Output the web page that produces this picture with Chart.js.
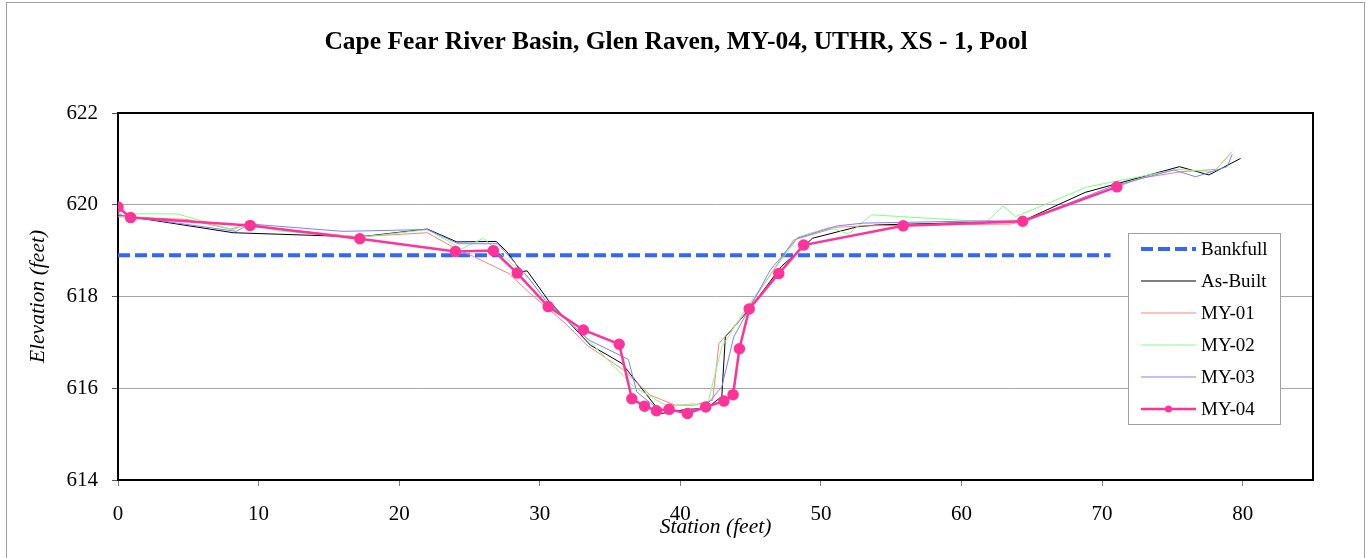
<!DOCTYPE html>
<html>
<head>
<meta charset="utf-8">
<title>Cape Fear River Basin, Glen Raven, MY-04, UTHR, XS - 1, Pool</title>
<script src="https://cdn.jsdelivr.net/npm/chart.js@4.4.0/dist/chart.umd.min.js"></script>
<style>
    html, body { margin: 0; padding: 0; background: #fff; }
    #wrap { width: 1367px; height: 558px; }
</style>
</head>
<body>
<div id="wrap"><canvas id="xsChart" width="1367" height="558"></canvas></div>
<script>
// station (ft) / elevation (ft) pairs
const bankfullX = [0, 70.6];
const bankfullElev = 618.9;

const asBuiltX = [0, 8.2, 17.2, 22.0, 24.1, 26.9, 27.65, 28.7, 29.1, 30.6, 33.6, 35.85, 38.65, 40.45, 41.85, 42.95, 43.2, 44.85, 47.2, 48.5, 49.4, 52.6, 54.0, 64.3, 68.8, 75.5, 77.6, 79.85];
const asBuiltY = [619.78, 619.39, 619.3, 619.47, 619.19, 619.2, 618.98, 618.54, 618.56, 617.92, 616.94, 616.54, 615.45, 615.54, 615.56, 615.82, 617.12, 617.7, 618.66, 619.01, 619.27, 619.52, 619.56, 619.64, 620.27, 620.83, 620.65, 621.01];

const my01X = [0, 4.9, 8.0, 9.0, 17.0, 22.0, 24.1, 25.3, 27.8, 29.3, 31.8, 33.35, 35.95, 37.85, 39.65, 40.95, 42.3, 42.75, 44.25, 48.05, 51.15, 53.05, 63.5, 64.35, 72.75, 75.6, 78.1, 79.15];
const my01Y = [619.74, 619.68, 619.47, 619.55, 619.3, 619.39, 619.03, 618.87, 618.5, 618.07, 617.42, 616.94, 616.4, 615.85, 615.63, 615.63, 615.74, 616.98, 617.49, 619.23, 619.51, 619.54, 619.58, 619.64, 620.58, 620.72, 620.77, 621.12];

const my02X = [0, 4.2, 8.2, 9.4, 11.3, 17.5, 22.0, 24.45, 26.0, 29.3, 30.5, 33.3, 36.7, 39.05, 40.95, 41.9, 42.95, 44.75, 48.4, 50.65, 51.95, 53.6, 61.8, 62.95, 63.85, 68.95, 75.35, 77.95, 79.25];
const my02Y = [619.8, 619.8, 619.45, 619.63, 619.43, 619.3, 619.46, 619.04, 619.27, 618.36, 617.89, 617.1, 616.03, 615.61, 615.66, 615.61, 616.9, 617.78, 619.3, 619.51, 619.36, 619.78, 619.63, 619.97, 619.74, 620.39, 620.77, 620.72, 621.16];

const my03X = [0, 8.4, 9.4, 16.0, 22.0, 24.2, 27.0, 29.2, 30.4, 33.5, 36.3, 36.9, 38.35, 40.0, 41.65, 42.95, 43.8, 46.4, 48.3, 51.15, 53.05, 61.8, 64.35, 70.6, 75.1, 76.65, 78.9, 79.25];
const my03Y = [619.78, 619.42, 619.58, 619.42, 619.46, 619.15, 619.15, 618.41, 617.92, 617.05, 616.63, 615.92, 615.56, 615.49, 615.56, 616.03, 617.12, 618.58, 619.27, 619.54, 619.6, 619.65, 619.64, 620.39, 620.76, 620.61, 620.83, 621.1];

const my04X = [0, 0.9, 9.4, 17.2, 24.0, 26.7, 28.4, 30.6, 33.1, 35.65, 36.55, 37.45, 38.3, 39.2, 40.5, 41.8, 43.1, 43.75, 44.2, 44.9, 47.0, 48.77, 55.85, 64.35, 71.05];
const my04Y = [619.95, 619.72, 619.55, 619.26, 618.98, 619.0, 618.51, 617.78, 617.27, 616.96, 615.77, 615.61, 615.51, 615.54, 615.45, 615.59, 615.72, 615.86, 616.86, 617.73, 618.5, 619.12, 619.54, 619.64, 620.39];

const xTicks = [0, 10, 20, 30, 40, 50, 60, 70, 80];
const yTicks = [614, 616, 618, 620, 622];

const chartTitle = 'Cape Fear River Basin, Glen Raven, MY-04, UTHR, XS - 1, Pool';
const serif = "'Times New Roman', 'Liberation Serif', serif";

function pairs(xs, ys) {
    return xs.map((x, i) => ({ x: x, y: Array.isArray(ys) ? ys[i] : ys }));
}

// plot frame, outer chart border, title and the boxed legend (Excel style)
const framePlugin = {
    id: 'frame',
    beforeDraw(chart) {
        const ctx = chart.ctx;
        ctx.save();
        ctx.fillStyle = '#fff';
        ctx.fillRect(0, 0, chart.width, chart.height);
        ctx.strokeStyle = '#a0a0a0';
        ctx.lineWidth = 1;
        ctx.strokeRect(6.5, 2.5, chart.width - 9, chart.height + 10);
        ctx.font = 'bold 25.5px ' + serif;
        ctx.fillStyle = '#000';
        ctx.textAlign = 'center';
        ctx.textBaseline = 'middle';
        ctx.fillText(chartTitle, 676, 42);
        ctx.restore();
    },
    beforeDatasetsDraw(chart) {
        const { ctx, chartArea: a } = chart;
        ctx.save();
        ctx.strokeStyle = '#000';
        ctx.lineWidth = 2;
        ctx.strokeRect(a.left, a.top, a.right - a.left, a.bottom - a.top);
        ctx.restore();
    },
    afterDraw(chart) {
        const { ctx, chartArea: a } = chart;
        const left = a.right - 185, top = a.top + 120;
        const w = 152, h = 191;
        ctx.save();
        ctx.fillStyle = '#fff';
        ctx.fillRect(left, top, w, h);
        ctx.strokeStyle = '#a0a0a0';
        ctx.lineWidth = 1;
        ctx.strokeRect(left + 0.5, top + 0.5, w, h);
        ctx.font = '19px ' + serif;
        ctx.textBaseline = 'middle';
        ctx.fillStyle = '#000';
        chart.data.datasets.forEach((ds, i) => {
            const y = top + 16 + i * 32;
            ctx.beginPath();
            ctx.strokeStyle = ds.borderColor;
            ctx.lineWidth = ds.borderWidth;
            ctx.setLineDash(ds.borderDash || []);
            ctx.moveTo(left + 13, y);
            ctx.lineTo(left + 68, y);
            ctx.stroke();
            ctx.setLineDash([]);
            if (ds.pointRadius > 0) {
                ctx.beginPath();
                ctx.fillStyle = ds.pointBackgroundColor;
                ctx.arc(left + 40.5, y, 3.5, 0, Math.PI * 2);
                ctx.fill();
                ctx.fillStyle = '#000';
            }
            ctx.fillText(ds.label, left + 73, y + 1);
        });
        ctx.restore();
    }
};

const thin = (label, color, xs, ys, order) => ({
    label: label,
    data: pairs(xs, ys),
    borderColor: color,
    borderWidth: 1,
    pointRadius: 0,
    showLine: true,
    tension: 0,
    order: order
});

new Chart(document.getElementById('xsChart').getContext('2d'), {
    type: 'scatter',
    data: {
        datasets: [
            {
                label: 'Bankfull',
                data: pairs(bankfullX, bankfullElev),
                borderColor: '#3366ff',
                borderWidth: 4,
                borderDash: [12, 5],
                pointRadius: 0,
                showLine: true,
                order: 5
            },
            thin('As-Built', '#000000', asBuiltX, asBuiltY, 4),
            thin('MY-01', '#ff8080', my01X, my01Y, 3),
            thin('MY-02', '#80ff80', my02X, my02Y, 2),
            thin('MY-03', '#8080ff', my03X, my03Y, 1),
            {
                label: 'MY-04',
                data: pairs(my04X, my04Y),
                borderColor: '#ff3399',
                backgroundColor: '#ff3399',
                pointBackgroundColor: '#ff3399',
                pointBorderColor: '#ff3399',
                borderWidth: 2.5,
                pointRadius: 4.5,
                showLine: true,
                tension: 0,
                order: 0
            }
        ]
    },
    options: {
        responsive: false,
        animation: false,
        layout: { padding: { left: 0, right: 54, top: 113, bottom: 0 } },
        plugins: {
            legend: { display: false },
            tooltip: { enabled: false },
            title: { display: false }
        },
        scales: {
            x: {
                type: 'linear',
                min: 0,
                max: 85,
                afterBuildTicks: s => { s.ticks = xTicks.map(v => ({ value: v })); },
                afterFit: s => { s.height = 78; },
                ticks: { autoSkip: false, maxRotation: 0, padding: 16, color: '#000', font: { family: serif, size: 21 } },
                grid: { drawOnChartArea: false, tickLength: 6, color: '#808080' },
                border: { display: false },
                title: {
                    display: true,
                    text: 'Station (feet)',
                    color: '#000',
                    font: { family: serif, size: 21.5, style: 'italic' },
                    padding: { top: 0, bottom: 18 }
                }
            },
            y: {
                min: 614,
                max: 622,
                afterBuildTicks: s => { s.ticks = yTicks.map(v => ({ value: v })); },
                afterFit: s => { s.width = 118; },
                ticks: { padding: 14, color: '#000', font: { family: serif, size: 21 } },
                grid: { color: '#a6a6a6', tickLength: 6, tickColor: '#555' },
                border: { display: false },
                title: {
                    display: true,
                    text: 'Elevation (feet)',
                    color: '#000',
                    font: { family: serif, size: 21.5, style: 'italic' },
                    padding: { top: 25, bottom: 0 }
                }
            }
        }
    },
    plugins: [framePlugin]
});
</script>
</body>
</html>
